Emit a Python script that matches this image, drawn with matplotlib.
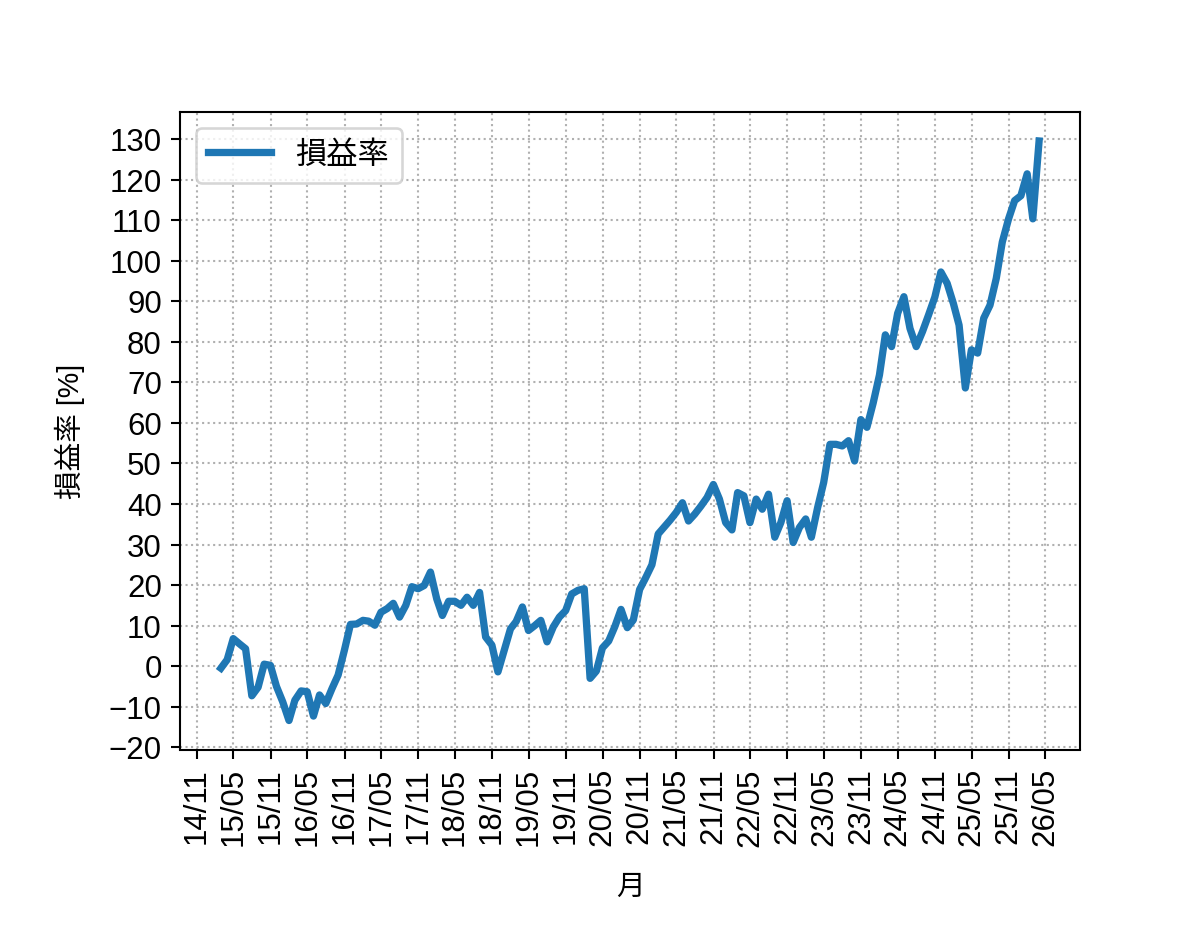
import numpy as np
import pandas as pd
import matplotlib
matplotlib.use("Agg")
import matplotlib.pyplot as plt
import matplotlib.dates as mdates
from matplotlib.ticker import MultipleLocator

plt.rcParams['font.family'] = ['Liberation Sans', 'Noto Sans CJK JP']

# monthly profit rate [%], month-end from 2015-02 to 2026-03
months = pd.date_range('2015-02-28', periods=134, freq='ME')
rate = [
    -0.5, 1.6, 6.8, 5.5, 4.3, -7.3, -5.2, 0.5, 0.2, -5.0,
    -8.8, -13.4, -8.4, -6.1, -6.3, -12.3, -7.1, -9.2, -5.5, -2.2,
    3.9, 10.3, 10.4, 11.3, 11.1, 10.1, 13.3, 14.2, 15.5, 12.1,
    15.0, 19.6, 19.1, 19.9, 23.2, 16.6, 12.5, 16.0, 16.0, 15.0,
    17.0, 15.0, 18.2, 7.2, 5.2, -1.4, 3.9, 9.2, 11.0, 14.6,
    8.8, 10.0, 11.3, 6.0, 9.7, 12.1, 13.7, 17.8, 18.7, 19.1,
    -3.0, -1.2, 4.5, 6.2, 9.7, 14.0, 9.5, 11.4, 18.9, 21.8,
    25.0, 32.6, 34.2, 36.0, 37.9, 40.3, 35.8, 37.5, 39.5, 41.6,
    44.8, 41.2, 35.4, 33.6, 42.8, 42.0, 35.4, 41.2, 38.7, 42.4,
    31.8, 35.4, 40.8, 30.5, 34.2, 36.3, 31.8, 39.1, 45.3, 54.7,
    54.7, 54.3, 55.6, 50.6, 60.8, 58.9, 64.9, 71.8, 81.7, 78.8,
    87.0, 91.1, 83.3, 78.8, 82.5, 86.6, 91.0, 97.2, 94.4, 89.4,
    84.1, 68.6, 78.0, 77.2, 85.8, 89.0, 95.6, 104.6, 110.3, 114.8,
    116.0, 121.4, 110.3, 129.5,
]

fig, ax = plt.subplots(figsize=(6.4, 5), dpi=187.5)
fig.subplots_adjust(left=0.15, bottom=0.2)

ax.plot(months, rate, linewidth=2.8, color='#1f77b4', label='損益率')

ax.xaxis.set_major_locator(mdates.MonthLocator(bymonth=[5, 11]))
ax.xaxis.set_major_formatter(mdates.DateFormatter('%y/%m'))
ax.yaxis.set_major_locator(MultipleLocator(10))
ax.tick_params(axis='both', labelsize=12)
plt.setp(ax.get_xticklabels(), rotation=90)

ax.grid(True, linestyle=':')
ax.set_xlabel('月', fontsize=11, labelpad=10)
ax.set_ylabel('損益率 [%]', fontsize=11, labelpad=9)
ax.legend(loc='upper left', fontsize=12)

fig.savefig('out.png')
